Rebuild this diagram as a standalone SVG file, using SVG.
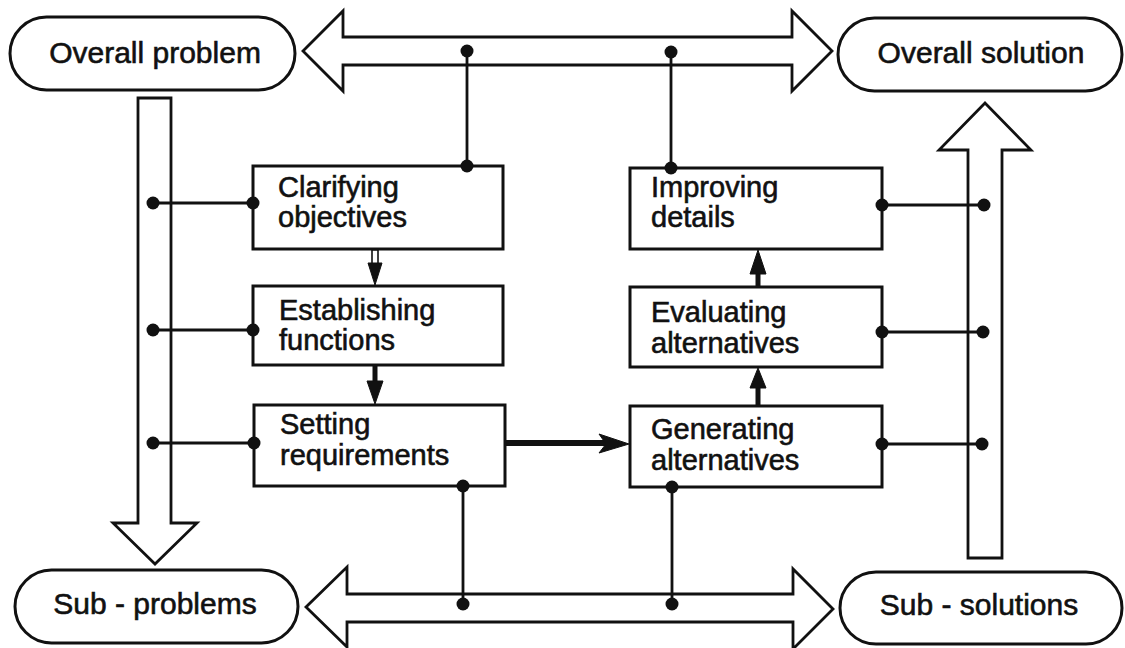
<svg xmlns="http://www.w3.org/2000/svg" width="1125" height="648" viewBox="0 0 1125 648">
  <style>
    .pill { fill: #fff; stroke: #111; stroke-width: 3; }
    .box { fill: #fff; stroke: #111; stroke-width: 3; }
    .big { fill: #fff; stroke: #111; stroke-width: 2.8; stroke-linejoin: miter; }
    .wire { stroke: #111; stroke-width: 2.8; fill: none; }
    .dot { fill: #111; }
    .head { fill: #111; stroke: #111; stroke-width: 1; stroke-linejoin: round; }
    .t { font-family: "Liberation Sans", Arial, sans-serif; fill: #111; stroke: #111; stroke-width: 0.6; }
    .tl { font-size: 30px; text-anchor: middle; }
    .tb { font-size: 29px; }
  </style>
  <rect width="1125" height="648" fill="#fff"/>

  <!-- broad flow arrows -->
  <g id="flow-arrows">
    <polygon id="top-arrow" class="big" points="303,51 343,11 343,37 792,37 792,11 832,51 792,91 792,65 343,65 343,91"/>
    <polygon id="bottom-arrow" class="big" points="306,607 347,567 347,594 793,594 793,569 833,609 793,649 793,622 347,622 347,647"/>
    <polygon id="left-arrow" class="big" points="138,98 171,98 171,523 197,523 155,564 113,523 138,523"/>
    <polygon id="right-arrow" class="big" points="968,558 968,150 939,150 985,103 1031,150 1002,150 1002,558"/>
  </g>

  <!-- end states -->
  <g id="overall-problem">
    <rect class="pill" x="10" y="17" width="285" height="73" rx="36.5"/>
    <text class="t tl" x="155" y="63">Overall problem</text>
  </g>
  <g id="overall-solution">
    <rect class="pill" x="838" y="18" width="284" height="73" rx="36.5"/>
    <text class="t tl" x="981" y="63">Overall solution</text>
  </g>
  <g id="sub-problems">
    <rect class="pill" x="15" y="570" width="283" height="73" rx="36.5"/>
    <text class="t tl" x="155" y="614">Sub - problems</text>
  </g>
  <g id="sub-solutions">
    <rect class="pill" x="840" y="572" width="282" height="72" rx="36"/>
    <text class="t tl" x="979" y="615">Sub - solutions</text>
  </g>

  <!-- process stages -->
  <g id="clarifying-objectives">
    <rect class="box" x="253" y="166" width="250" height="83"/>
    <text class="t tb" x="278" y="197">Clarifying</text>
    <text class="t tb" x="278" y="227">objectives</text>
  </g>
  <g id="establishing-functions">
    <rect class="box" x="253" y="286" width="250" height="79"/>
    <text class="t tb" x="279" y="320">Establishing</text>
    <text class="t tb" x="279" y="350">functions</text>
  </g>
  <g id="setting-requirements">
    <rect class="box" x="254" y="405" width="251" height="81"/>
    <text class="t tb" x="280" y="434">Setting</text>
    <text class="t tb" x="280" y="465">requirements</text>
  </g>
  <g id="improving-details">
    <rect class="box" x="630" y="168" width="252" height="81"/>
    <text class="t tb" x="651" y="197">Improving</text>
    <text class="t tb" x="651" y="227">details</text>
  </g>
  <g id="evaluating-alternatives">
    <rect class="box" x="630" y="287" width="252" height="80"/>
    <text class="t tb" x="651" y="322">Evaluating</text>
    <text class="t tb" x="651" y="353">alternatives</text>
  </g>
  <g id="generating-alternatives">
    <rect class="box" x="630" y="406" width="252" height="81"/>
    <text class="t tb" x="651" y="439">Generating</text>
    <text class="t tb" x="651" y="470">alternatives</text>
  </g>

  <!-- connectors -->
  <g id="connectors">
    <!-- links to the top and bottom flow arrows -->
    <path class="wire" d="M467,51 V166 M671,52 V168 M463,486 V605 M672,487 V605"/>
    <!-- links to the side flow arrows -->
    <path class="wire" d="M153,203 H253 M153,330 H253 M153,443 H254 M882,205 H983 M882,332 H983 M882,444 H982"/>

    <g id="junction-dots">
      <circle class="dot" cx="467" cy="51" r="6.5"/>
      <circle class="dot" cx="467" cy="166" r="6.5"/>
      <circle class="dot" cx="671" cy="52" r="6.5"/>
      <circle class="dot" cx="671" cy="168" r="6.5"/>
      <circle class="dot" cx="463" cy="486" r="6.5"/>
      <circle class="dot" cx="463" cy="604" r="6.5"/>
      <circle class="dot" cx="672" cy="487" r="6.5"/>
      <circle class="dot" cx="672" cy="604" r="6.5"/>
      <circle class="dot" cx="153" cy="203" r="6.5"/>
      <circle class="dot" cx="253" cy="203" r="6.5"/>
      <circle class="dot" cx="153" cy="330" r="6.5"/>
      <circle class="dot" cx="253" cy="330" r="6.5"/>
      <circle class="dot" cx="153" cy="443" r="6.5"/>
      <circle class="dot" cx="254" cy="443" r="6.5"/>
      <circle class="dot" cx="882" cy="205" r="6.5"/>
      <circle class="dot" cx="984" cy="205" r="6.5"/>
      <circle class="dot" cx="882" cy="332" r="6.5"/>
      <circle class="dot" cx="983" cy="332" r="6.5"/>
      <circle class="dot" cx="882" cy="444" r="6.5"/>
      <circle class="dot" cx="982" cy="444" r="6.5"/>
    </g>

    <!-- stage-to-stage arrows -->
    <rect x="372" y="250" width="6" height="16" fill="#fff" stroke="#111" stroke-width="1.6"/>
    <polygon class="head" points="368,263 382,263 375,285"/>
    <path class="wire" style="stroke-width:5" d="M375,365 V384"/>
    <polygon class="head" points="367,381 383,381 375,404"/>
    <path class="wire" style="stroke-width:5" d="M758,406 V384"/>
    <polygon class="head" points="750,388 766,388 758,368"/>
    <path class="wire" style="stroke-width:5" d="M758,287 V270"/>
    <polygon class="head" points="750,274 766,274 758,250"/>
    <path class="wire" style="stroke-width:6" d="M505,443 H606"/>
    <polygon class="head" points="599,434 629,444 599,453 606,444"/>
  </g>
</svg>
